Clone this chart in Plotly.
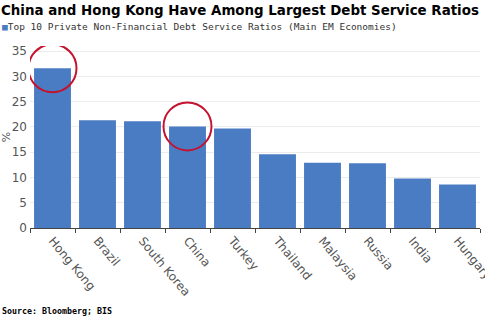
import plotly.graph_objects as go

countries = ["Hong Kong", "Brazil", "South Korea", "China", "Turkey",
             "Thailand", "Malaysia", "Russia", "India", "Hungary"]
ratios = [31.6, 21.3, 21.1, 20.1, 19.7, 14.6, 12.9, 12.8, 9.8, 8.6]
highlighted = ["Hong Kong", "China"]
y_ticks = [0, 5, 10, 15, 20, 25, 30, 35]

title = "China and Hong Kong Have Among Largest Debt Service Ratios"
series_name = "Top 10 Private Non-Financial Debt Service Ratios (Main EM Economies)"
source = "Source: Bloomberg; BIS"

BLUE = "#4a7cc3"
GREY = "#555555"

fig = go.Figure(go.Bar(x=countries, y=ratios, marker_color=BLUE,
                       marker_line_width=0, name=series_name))

shapes = []
for c in highlighted:
    v = ratios[countries.index(c)]
    shapes.append(dict(type="circle", xref="x", yref="y",
                       xsizemode="pixel", ysizemode="pixel",
                       xanchor=countries.index(c), yanchor=v,
                       x0=-24, x1=24, y0=-24, y1=24,
                       line=dict(color="#c4122f", width=2)))

fig.update_layout(
    width=485, height=319,
    margin=dict(l=30, r=5, t=46, b=91),
    plot_bgcolor="white", paper_bgcolor="white",
    showlegend=False, bargap=0.18,
    font=dict(family="DejaVu Sans", color=GREY),
    shapes=shapes,
    xaxis=dict(type="category", tickangle=50, tickfont=dict(size=12, color=GREY),
               ticks="outside", tickson="boundaries", ticklen=4, tickcolor="#444",
               showline=True, linecolor="#444", linewidth=1, showgrid=False,
               range=[-0.5, 9.5], automargin=False),
    yaxis=dict(range=[0, 36], tickvals=y_ticks, tickfont=dict(size=12, color=GREY),
               showgrid=True, gridcolor="#ececec", zeroline=False,
               showline=False, ticks="", ticklabelstandoff=2, automargin=False,
               title=dict(text="%", font=dict(size=11, color=GREY), standoff=4)),
    annotations=[
        dict(text="<b>" + title + "</b>", xref="paper", yref="paper",
             x=-31 / 450, y=1 + 36 / 182, xanchor="left", yanchor="middle",
             showarrow=False, font=dict(family="DejaVu Sans", size=13.4, color="black")),
        dict(text="<span style='color:%s'>■</span>" % BLUE + series_name,
             xref="paper", yref="paper", x=-30 / 450, y=1 + 19 / 182,
             xanchor="left", yanchor="middle", showarrow=False,
             font=dict(family="DejaVu Sans Mono", size=9.5, color="#333")),
        dict(text="<b>" + source + "</b>", xref="paper", yref="paper",
             x=-30 / 450, y=-83 / 182, xanchor="left", yanchor="middle",
             showarrow=False, font=dict(family="DejaVu Sans Mono", size=8.3, color="black")),
    ],
)

fig.write_html("out.html")
